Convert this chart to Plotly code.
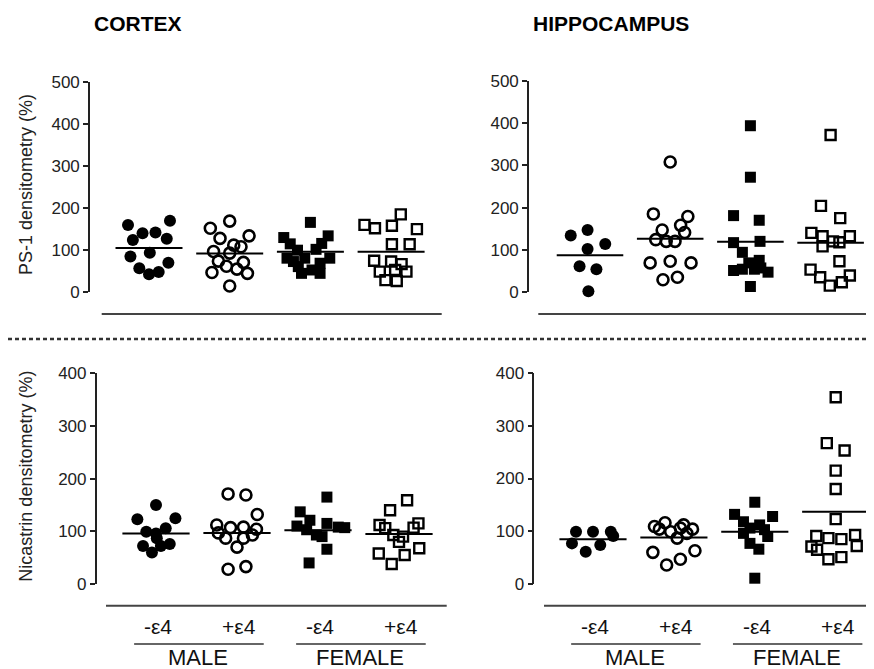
import plotly.graph_objects as go

# ---------------- data ----------------
categories = ["-ε4", "+ε4", "-ε4", "+ε4"]
groups = ["MALE", "FEMALE"]
regions = ["CORTEX", "HIPPOCAMPUS"]
ytitles = ["PS-1 densitometry (%)", "Nicastrin densitometry (%)"]
ps1_ticks = [0, 100, 200, 300, 400, 500]
nic_ticks = [0, 100, 200, 300, 400]

# Cortex PS-1
ctx_ps1_mneg = [160, 170, 124, 140, 142, 127, 94, 85, 70, 57, 43, 48]
ctx_ps1_mneg_dx = [-0.26, 0.26, -0.2, -0.08, 0.08, 0.22, 0.01, -0.23, 0.24, -0.12, 0.0, 0.12]
ctx_ps1_mpos = [152, 169, 134, 128, 112, 108, 97, 93, 74, 71, 62, 55, 47, 45, 15]
ctx_ps1_mpos_dx = [-0.24, 0.0, 0.24, -0.12, 0.05, 0.14, -0.2, 0.0, -0.14, 0.17, -0.04, 0.09, -0.22, 0.22, 0.0]
ctx_ps1_fneg = [166, 130, 134, 115, 116, 100, 102, 81, 81, 81, 69, 61, 53, 45, 45, 73]
ctx_ps1_fneg_dx = [0.0, -0.33, 0.22, -0.25, 0.14, -0.16, 0.07, -0.29, 0.24, -0.07, 0.12, -0.15, 0.02, -0.11, 0.12, -0.21]
ctx_ps1_fpos = [160, 152, 158, 185, 150, 114, 114, 75, 73, 67, 49, 49, 53, 29, 27]
ctx_ps1_fpos_dx = [-0.33, -0.2, 0.01, 0.12, 0.32, 0.01, 0.23, -0.21, 0.0, 0.13, -0.14, 0.19, 0.05, -0.07, 0.07]
ctx_ps1_means = [105, 92, 96, 96]

# Hippocampus PS-1
hip_ps1_mneg = [134, 147, 114, 102, 61, 54, 2]
hip_ps1_mneg_dx = [-0.24, -0.03, 0.19, -0.03, -0.13, 0.08, -0.02]
hip_ps1_mpos = [308, 185, 179, 147, 158, 141, 124, 120, 120, 69, 73, 69, 29, 35]
hip_ps1_mpos_dx = [0.0, -0.21, 0.22, -0.1, 0.13, 0.18, -0.18, -0.05, 0.06, -0.25, 0.0, 0.26, -0.09, 0.09]
hip_ps1_fneg = [394, 272, 181, 170, 117, 120, 94, 51, 69, 75, 57, 47, 54, 54, 13]
hip_ps1_fneg_dx = [0.0, 0.0, -0.21, 0.11, -0.21, 0.12, -0.1, -0.21, -0.02, 0.11, 0.13, 0.22, -0.1, 0.05, 0.0]
hip_ps1_fpos = [372, 204, 175, 140, 132, 108, 120, 118, 132, 73, 53, 35, 15, 23, 39]
hip_ps1_fpos_dx = [0.0, -0.12, 0.12, -0.24, -0.1, -0.1, 0.03, 0.11, 0.24, 0.11, -0.25, -0.13, -0.01, 0.14, 0.24]
hip_ps1_means = [87, 126, 119, 117]

# Cortex Nicastrin
ctx_nic_mneg = [150, 123, 125, 99, 96, 106, 72, 60, 72, 76, 87]
ctx_nic_mneg_dx = [0.0, -0.23, 0.24, -0.12, 0.0, 0.12, -0.16, -0.05, 0.06, 0.17, 0.01]
ctx_nic_mpos = [171, 169, 132, 112, 107, 108, 104, 97, 87, 87, 70, 28, 33, 93]
ctx_nic_mpos_dx = [-0.11, 0.11, 0.25, -0.25, -0.08, 0.08, 0.24, -0.23, -0.14, 0.08, 0.0, -0.11, 0.11, 0.19]
ctx_nic_fneg = [165, 137, 121, 110, 115, 108, 107, 103, 93, 90, 66, 40]
ctx_nic_fneg_dx = [0.11, -0.22, -0.1, -0.26, 0.11, 0.25, 0.33, -0.14, -0.02, 0.05, 0.11, -0.11]
ctx_nic_fpos = [159, 140, 112, 115, 107, 106, 93, 90, 80, 58, 68, 55, 38]
ctx_nic_fpos_dx = [0.1, -0.11, -0.24, 0.24, 0.18, -0.17, -0.07, 0.05, 0.0, -0.25, 0.25, 0.07, -0.09]
ctx_nic_means = [96, 97, 102, 95]

# Hippocampus Nicastrin
hip_nic_mneg = [99, 99, 99, 91, 77, 74, 61]
hip_nic_mneg_dx = [-0.21, 0.0, 0.22, 0.25, -0.26, 0.09, -0.09]
hip_nic_mpos = [109, 116, 112, 104, 104, 99, 106, 87, 60, 63, 47, 36, 96]
hip_nic_mpos_dx = [-0.24, -0.11, 0.12, 0.23, -0.18, -0.04, 0.08, 0.04, -0.26, 0.26, 0.08, -0.09, 0.16]
hip_nic_fneg = [155, 132, 128, 118, 112, 106, 103, 96, 90, 77, 66, 11]
hip_nic_fneg_dx = [0.0, -0.25, 0.22, -0.14, 0.06, -0.06, 0.12, -0.14, 0.16, -0.06, 0.05, 0.0]
hip_nic_fpos = [354, 267, 253, 215, 180, 123, 91, 87, 85, 93, 71, 72, 47, 51, 65]
hip_nic_fpos_dx = [0.0, -0.11, 0.11, 0.0, 0.0, 0.0, -0.24, -0.09, 0.07, 0.24, -0.3, 0.26, -0.09, 0.07, -0.23]
hip_nic_means = [85, 88, 99, 137]

# ---------------- layout geometry (pixels) ----------------
W, H = 874, 669
OX, OY = 8, 8          # default page body margin that offsets the figure
FONT = "Liberation Sans, Arial, sans-serif"
PANELS = [
    dict(ax=90, c1=149, sp=80.7, right=441, top=81.7, bot=292.3, ymax=500, ticks=ps1_ticks,
         series=[(ctx_ps1_mneg, ctx_ps1_mneg_dx), (ctx_ps1_mpos, ctx_ps1_mpos_dx),
                 (ctx_ps1_fneg, ctx_ps1_fneg_dx), (ctx_ps1_fpos, ctx_ps1_fpos_dx)],
         means=ctx_ps1_means, base=(101.7, 441.7, 314)),
    dict(ax=529, c1=590, sp=80.2, right=868, top=81.0, bot=292.0, ymax=500, ticks=ps1_ticks,
         series=[(hip_ps1_mneg, hip_ps1_mneg_dx), (hip_ps1_mpos, hip_ps1_mpos_dx),
                 (hip_ps1_fneg, hip_ps1_fneg_dx), (hip_ps1_fpos, hip_ps1_fpos_dx)],
         means=hip_ps1_means, base=(538.3, 882, 314)),
    dict(ax=96.7, c1=156, sp=81.0, right=446, top=373.3, bot=584, ymax=400, ticks=nic_ticks,
         series=[(ctx_nic_mneg, ctx_nic_mneg_dx), (ctx_nic_mpos, ctx_nic_mpos_dx),
                 (ctx_nic_fneg, ctx_nic_fneg_dx), (ctx_nic_fpos, ctx_nic_fpos_dx)],
         means=ctx_nic_means, base=(106, 446.7, 605.7)),
    dict(ax=534.3, c1=593, sp=80.9, right=868, top=373.0, bot=584, ymax=400, ticks=nic_ticks,
         series=[(hip_nic_mneg, hip_nic_mneg_dx), (hip_nic_mpos, hip_nic_mpos_dx),
                 (hip_nic_fneg, hip_nic_fneg_dx), (hip_nic_fpos, hip_nic_fpos_dx)],
         means=hip_nic_means, base=(544, 882, 605.7)),
]

MARKERS = [
    dict(symbol="circle", size=12, color="black"),
    dict(symbol="circle-open", size=11, color="black", line=dict(width=2.6, color="black")),
    dict(symbol="square", size=11, color="black"),
    dict(symbol="square-open", size=10, color="black", line=dict(width=2.4, color="black")),
]

def fx(px):
    return (px - OX) / W

def fy(py):
    return 1 - (py - OY) / H

fig = go.Figure()
layout = dict(width=W, height=H, margin=dict(l=0, r=0, t=0, b=0, pad=0, autoexpand=False),
              paper_bgcolor="white", plot_bgcolor="white", showlegend=False,
              font=dict(family=FONT, color="#111"))
shapes = []
annotations = []

for i, p in enumerate(PANELS, start=1):
    xa = "x" if i == 1 else f"x{i}"
    ya = "y" if i == 1 else f"y{i}"
    x0 = 1 - (p["c1"] - p["ax"]) / p["sp"]
    x1 = 1 + (p["right"] - p["c1"]) / p["sp"]
    over = max(0.0, fx(p["right"]) - 1) * W
    layout["xaxis" if i == 1 else f"xaxis{i}"] = dict(
        domain=[fx(p["ax"]), min(1, fx(p["right"]))], range=[x0, x1 - over / p["sp"]],
        visible=False, anchor=ya, fixedrange=True, automargin=False)
    layout["yaxis" if i == 1 else f"yaxis{i}"] = dict(
        domain=[fy(p["bot"]), fy(p["top"])], range=[0, p["ymax"]], anchor=xa,
        showline=True, linecolor="#222", linewidth=1.6, ticks="outside", ticklen=5,
        tickwidth=1.6, tickcolor="#222", tickvals=p["ticks"], showgrid=False,
        zeroline=False, tickfont=dict(size=17, color="#222", family=FONT), fixedrange=True,
        automargin=False)
    for k, (vals, dxs) in enumerate(p["series"]):
        cat = k + 1
        fig.add_trace(go.Scatter(
            x=[cat + d for d in dxs], y=vals, mode="markers", xaxis=xa, yaxis=ya,
            marker=MARKERS[k], cliponaxis=False, hoverinfo="y"))
        m = p["means"][k]
        fig.add_trace(go.Scatter(
            x=[cat - 0.415, cat + 0.415], y=[m, m], mode="lines", xaxis=xa, yaxis=ya,
            line=dict(color="black", width=2), cliponaxis=False, hoverinfo="skip"))
    bx0, bx1, by = p["base"]
    shapes.append(dict(type="line", xref="paper", yref="paper", x0=fx(bx0), x1=fx(bx1),
                       y0=fy(by), y1=fy(by), line=dict(color="#444", width=2)))

for i in (2, 3):
    p = PANELS[i]
    cpx = lambda c, p=p: p["c1"] + (c - 1) * p["sp"]
    for k, lab in enumerate(categories):
        annotations.append(dict(text=lab, xref="paper", yref="paper", x=fx(cpx(k + 1) + 2),
                                y=fy(626.7), xanchor="center", yanchor="middle",
                                showarrow=False, font=dict(size=21, color="#111")))
    for g, gl in enumerate(groups):
        a = 1 + 2 * g
        shapes.append(dict(type="line", xref="paper", yref="paper",
                           x0=fx(cpx(a - 0.27)), x1=fx(cpx(a + 1 + 0.33)),
                           y0=fy(644), y1=fy(644), line=dict(color="#333", width=1.6)))
        annotations.append(dict(text=gl, xref="paper", yref="paper", x=fx(cpx(a + 0.52)),
                                y=fy(657.5), xanchor="center", yanchor="middle",
                                showarrow=False, font=dict(size=22, color="#111")))

for j, r in enumerate(regions):
    p = PANELS[j]
    annotations.append(dict(text=f"<b>{r}</b>", xref="paper", yref="paper",
                            x=fx(p["ax"] + 2), y=fy(23.5), xanchor="left", yanchor="middle",
                            showarrow=False, font=dict(size=21, color="#000")))

for j, t in enumerate(ytitles):
    p = PANELS[2 * j]
    annotations.append(dict(text=t, xref="paper", yref="paper", x=fx(26),
                            y=fy((p["top"] + p["bot"]) / 2 - 2), xanchor="center",
                            yanchor="middle", textangle=-90, showarrow=False,
                            font=dict(size=18, color="#222")))

shapes.append(dict(type="line", xref="paper", yref="paper", x0=fx(8), x1=fx(882),
                   y0=fy(339), y1=fy(339), line=dict(color="#333", width=2.5, dash="4px,3px")))

layout["shapes"] = shapes
layout["annotations"] = annotations
fig.update_layout(**layout)
fig.write_html("out.html")
